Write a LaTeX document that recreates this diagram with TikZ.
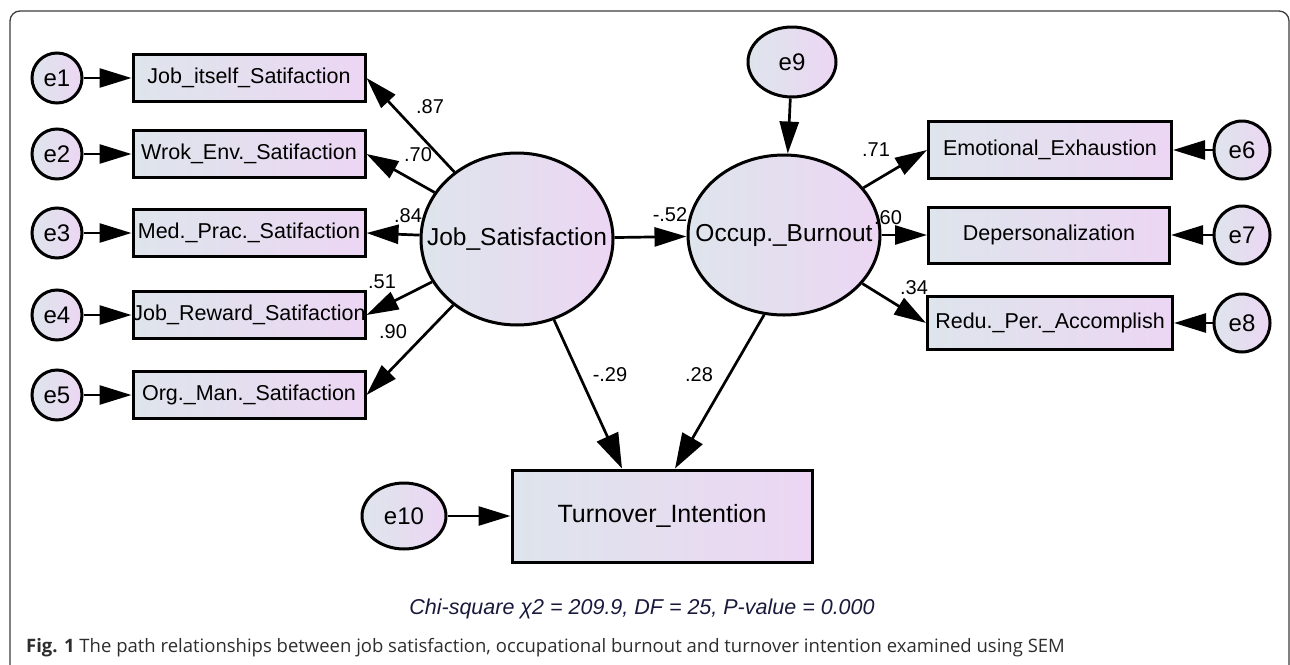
\documentclass[tikz,border=0pt]{standalone}
\usepackage{fontspec}
\setmainfont{Liberation Sans}
\newfontfamily\capfont{Open Sans}
\usetikzlibrary{positioning,arrows.meta,shapes.geometric}
\definecolor{boxleft}{RGB}{222,229,236}
\definecolor{boxright}{RGB}{236,214,243}
\definecolor{fitnavy}{RGB}{25,25,60}
\definecolor{capgray}{RGB}{45,45,45}
\definecolor{framegray}{RGB}{60,60,60}
\newcommand{\nowidth}[1]{\makebox[0pt]{#1}}

\begin{document}
\begin{tikzpicture}[x=1pt,y=-1pt,on grid,
    obs/.style={draw,line width=3pt,left color=boxleft,right color=boxright,
      minimum width=232pt,minimum height=47pt,inner sep=0pt,
      font=\fontsize{21.5}{24}\selectfont},
    lat/.style={ellipse,draw,line width=3pt,left color=boxleft,right color=boxright,
      minimum width=192pt,minimum height=172pt,inner sep=0pt,
      font=\fontsize{24.5}{28}\selectfont},
    err/.style={ellipse,draw,line width=3pt,left color=boxleft,right color=boxright,
      minimum width=50pt,minimum height=50pt,inner sep=0pt,
      font=\fontsize{24}{28}\selectfont},
    coef/.style={inner sep=0pt,font=\fontsize{20}{24}\selectfont},
    arr/.style={line width=2.7pt,-{Triangle[length=32pt,width=19pt]}},
    bigarr/.style={line width=2.7pt,-{Triangle[length=35pt,width=23pt]}}]
    \useasboundingbox (0,0) rectangle (1290,664);
    \draw[rounded corners=10pt,line width=1.3pt,framegray] (10,11) rectangle (1289,720);

    % latent variables
    \node[lat] (js) at (517,239) {\nowidth{Job\_Satisfaction}};
    \node[lat,minimum height=160pt] (ob) at (784,235) {\nowidth{Occup.\_Burnout}};
    \node[obs,minimum width=300pt,minimum height=92pt,font=\fontsize{25}{28}\selectfont] (ti) at (662,516) {Turnover\_Intention};

    % job satisfaction indicators
    \node[obs] (jsa) at (249,78) {Job\_itself\_Satifaction};
    \node[obs] (jsb) at (249,154) {Wrok\_Env.\_Satifaction};
    \node[obs] (jsc) at (249,233) {Med.\_Prac.\_Satifaction};
    \node[obs] (jsd) at (249,315) {\nowidth{Job\_Reward\_Satifaction}};
    \node[obs] (jse) at (249,395) {Org.\_Man.\_Satifaction};

    % burnout indicators
    \node[obs,minimum width=243pt,minimum height=57pt] (oba) at (1050,150) {Emotional\_Exhaustion};
    \node[obs,minimum width=241pt,minimum height=56pt] (obb) at (1049,235) {Depersonalization};
    \node[obs,minimum width=245pt,minimum height=53pt] (obc) at (1050,323) {Redu.\_Per.\_Accomplish};

    % error terms
    \node[err] (e1) [left=192pt of jsa] {e1};
    \node[err] (e2) [left=192pt of jsb] {e2};
    \node[err] (e3) [left=192pt of jsc] {e3};
    \node[err] (e4) [left=192pt of jsd] {e4};
    \node[err] (e5) [left=192pt of jse] {e5};
    \node[err,minimum width=56pt,minimum height=58pt] (e6) [right=192pt of oba] {e6};
    \node[err,minimum width=56pt,minimum height=58pt] (e7) [right=193pt of obb] {e7};
    \node[err,minimum width=56pt,minimum height=58pt] (e8) [right=192pt of obc] {e8};
    \node[err,minimum width=88pt,minimum height=70pt] (e9) at (792,62) {e9};
    \node[err,minimum width=84pt,minimum height=66pt] (e10) [left=258pt of ti] {e10};

    \path[arr] (e1) edge (jsa)
               (e2) edge (jsb)
               (e3) edge (jsc)
               (e4) edge (jsd)
               (e5) edge (jse)
               (e6) edge (oba)
               (e7) edge (obb)
               (e8) edge (obc)
               (e9) edge (ob)
               (e10) edge (ti);
    \path[arr] (js) edge (jsa.east)
               (js) edge (jsb.east)
               (js) edge (jsc.east)
               (js) edge (jsd.east)
               (js) edge (jse.east)
               (js) edge (ob)
               (ob) edge (oba.west)
               (ob) edge (obb.west)
               (ob) edge (obc.west);
    \path[bigarr] (js) edge ([xshift=-40pt]ti.north)
                  (ob.-104) edge ([xshift=13pt]ti.north);

    % coefficients
    \node[coef] (ca) at (430,107) {.87};
    \node[coef] (cb) at (418,155) {.70};
    \node[coef] (cc) at (408,216) {.84};
    \node[coef] (cd) at (382,282) {.51};
    \node[coef] (ce) at (393,332) {.90};
    \node[coef] (cf) at (670,215) {-.52};
    \node[coef] (cg) at (876,150) {.71};
    \node[coef] (ch) at (888,218) {.60};
    \node[coef] (ci) at (914,288) {.34};
    \node[coef] (cj) at (610,375) {-.29};
    \node[coef] (ck) at (699,375) {.28};

    \node[inner sep=0pt,text=fitnavy,font=\fontsize{21.5}{24}\selectfont\itshape] (fit) at (642,609)
      {Chi-square χ2 = 209.9, DF = 25, P-value = 0.000};
    \node[anchor=west,inner sep=0pt,text=capgray,font=\capfont\fontsize{18.5}{21}\selectfont] (cap) at (26,648)
      {\textbf{Fig. 1} The path relationships between job satisfaction, occupational burnout and turnover intention examined using SEM};
\end{tikzpicture}
\end{document}
